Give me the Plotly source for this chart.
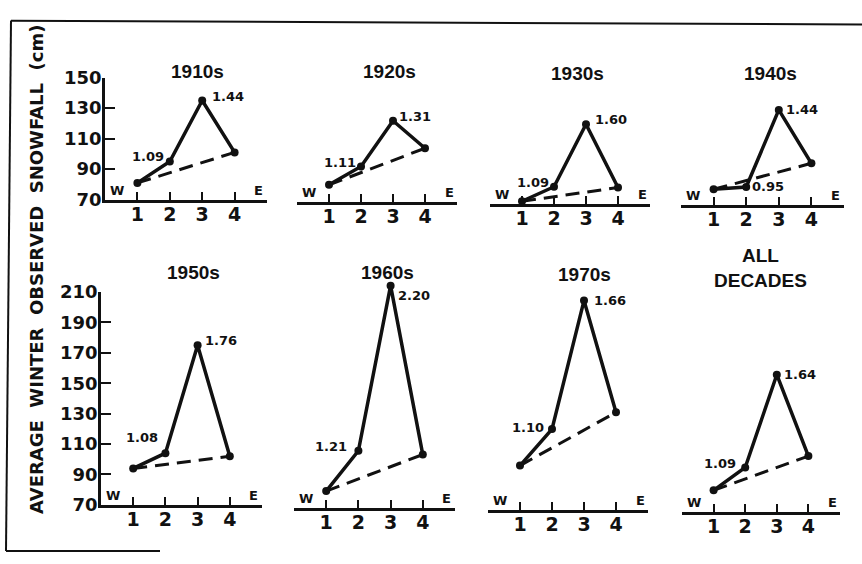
import plotly.graph_objects as go

# ---- data: average winter observed snowfall (cm) at stations 1-4 (west -> east)
stations = [1, 2, 3, 4]
decades = ["1910s", "1920s", "1930s", "1940s", "1950s", "1960s", "1970s", "ALL<br>DECADES"]
snow_1910s = [81, 95, 135, 101]
snow_1920s = [81, 93, 123, 105]
snow_1930s = [71.5, 81, 122, 80.5]
snow_1940s = [80, 81.5, 132, 97]
snow_1950s = [94, 104, 175, 102]
snow_1960s = [81, 107.5, 216, 105]
snow_1970s = [99, 123, 207.5, 134]
snow_all = [84, 99, 160, 106.5]
# ratio of observed snowfall to the west-east linear trend at stations 2 and 3
ratio_st2 = ["1.09", "1.11", "1.09", "0.95", "1.08", "1.21", "1.10", "1.09"]
ratio_st3 = ["1.44", "1.31", "1.60", "1.44", "1.76", "2.20", "1.66", "1.64"]
ticks_upper = [70, 90, 110, 130, 150]
ticks_lower = [70, 90, 110, 130, 150, 170, 190, 210]

series = [snow_1910s, snow_1920s, snow_1930s, snow_1940s,
          snow_1950s, snow_1960s, snow_1970s, snow_all]

W, H = 862, 564
FONT = "DejaVu Sans"
INK = "#111111"

# panel geometry in pixels: left, right, baseline (y=70), pixels per cm, top value
panels = [
    (105, 267, 196, 1.585, 150), (297, 457, 198, 1.585, 150),
    (490, 650, 200, 1.585, 150), (681, 844, 201, 1.585, 150),
    (101, 262, 513, 1.58, 210), (294, 455, 516, 1.58, 210),
    (488, 648, 518, 1.58, 210), (682, 840, 520, 1.58, 210),
]
title_pos = [(197, 63), (389, 63), (577, 65), (770, 65),
             (193, 272), (387, 272), (584, 274), (760, 267)]
# label placement next to stations 2 and 3: (anchor, xshift, yshift)
lab2 = [("right", -4, 5), ("right", -3, 4), ("right", -3, 4), ("left", 4, 0),
        ("right", -5, 16), ("right", -9, 4), ("right", -6, 2), ("right", -7, 4)]
lab3 = [("left", 8, 4), ("left", 4, 4), ("left", 7, 5), ("left", 5, 0),
        ("left", 5, 5), ("left", 5, -10), ("left", 8, 0), ("left", 5, 0)]


def px_x(x):
    return x / W


def px_y(y):
    return 1 - y / H


fig = go.Figure()
layout = dict(
    width=W, height=H, autosize=False,
    margin=dict(l=0, r=0, t=0, b=0),
    paper_bgcolor="white", plot_bgcolor="rgba(0,0,0,0)",
    showlegend=False,
)
annotations = []

for i, (vals, (left, right, base, ppu, ytop)) in enumerate(zip(series, panels)):
    n = "" if i == 0 else str(i + 1)
    xa, ya = "x" + n, "y" + n
    left_col = i in (0, 4)
    # hidden y axes get some headroom so tall peaks are not clipped
    yr_top = ytop if left_col else ytop + 12
    top_px = base - (yr_top - 70) * ppu

    # observed snowfall across stations
    fig.add_trace(go.Scatter(
        x=stations, y=vals, xaxis=xa, yaxis=ya, mode="lines+markers",
        line=dict(color=INK, width=3.5), marker=dict(color=INK, size=8),
        cliponaxis=False, hoverinfo="skip"))
    # straight west-east trend between the end stations
    fig.add_trace(go.Scatter(
        x=[stations[0], stations[-1]], y=[vals[0], vals[-1]], xaxis=xa, yaxis=ya,
        mode="lines", line=dict(color=INK, width=3, dash="14px,8px"),
        cliponaxis=False, hoverinfo="skip"))

    layout["xaxis" + n] = dict(
        domain=[px_x(left), px_x(right)], anchor=ya, range=[0, 5],
        tickvals=stations, ticktext=[str(s) for s in stations],
        ticks="inside", ticklen=8, tickwidth=2, tickcolor=INK,
        showline=True, linewidth=2.5, linecolor=INK,
        showgrid=False, zeroline=False, ticklabelstandoff=-4,
        tickfont=dict(family=FONT, size=19, color=INK, weight="bold"),
        fixedrange=True)
    layout["yaxis" + n] = dict(
        domain=[px_y(base), px_y(top_px)], anchor=xa,
        range=[70, yr_top], visible=left_col,
        tickvals=ticks_upper if i < 4 else ticks_lower,
        ticks="inside", ticklen=10, tickwidth=2, tickcolor=INK,
        showline=True, linewidth=2.5, linecolor=INK,
        showgrid=False, zeroline=False, ticklabelstandoff=-3,
        tickfont=dict(family=FONT, size=18, color=INK, weight="bold"),
        fixedrange=True)

    # W / E orientation marks
    annotations.append(dict(x=0.1, y=70, xref=xa, yref=ya, text="W",
                            xanchor="left", yanchor="bottom", yshift=0,
                            showarrow=False,
                            font=dict(family=FONT, size=13, color=INK, weight="bold")))
    annotations.append(dict(x=4.75, y=70, xref=xa, yref=ya, text="E",
                            xanchor="center", yanchor="bottom", yshift=0,
                            showarrow=False,
                            font=dict(family=FONT, size=13, color=INK, weight="bold")))

    # ratio labels at stations 2 and 3
    for idx, txt, (anc, dx, dy) in ((1, ratio_st2[i], lab2[i]), (2, ratio_st3[i], lab3[i])):
        annotations.append(dict(x=stations[idx], y=vals[idx], xref=xa, yref=ya,
                                text=txt, xanchor=anc, yanchor="middle",
                                xshift=dx, yshift=dy, showarrow=False,
                                font=dict(family=FONT, size=13, color=INK, weight="bold")))

    # decade title
    tx, ty = title_pos[i]
    annotations.append(dict(x=px_x(tx), y=px_y(ty), xref="paper", yref="paper",
                            text=decades[i], xanchor="center", yanchor="middle",
                            showarrow=False,
                            font=dict(family="Liberation Sans", size=19, color=INK,
                                      weight="bold")))

# shared y-axis title
annotations.append(dict(x=px_x(37), y=px_y(269), xref="paper", yref="paper",
                        text="AVERAGE  WINTER  OBSERVED  SNOWFALL  (cm)",
                        textangle=-90, xanchor="center", yanchor="middle",
                        showarrow=False,
                        font=dict(family=FONT, size=18, color=INK, weight="bold")))

layout["annotations"] = annotations

# figure frame
frame = [((11, 10), (862, 14)), ((11, 10), (6, 561)), ((6, 561), (160, 561))]
layout["shapes"] = [dict(type="line", xref="paper", yref="paper",
                         x0=px_x(a[0]), y0=px_y(a[1]), x1=px_x(b[0]), y1=px_y(b[1]),
                         line=dict(color=INK, width=2)) for a, b in frame]

fig.update_layout(**layout)
fig.write_html("out.html")
